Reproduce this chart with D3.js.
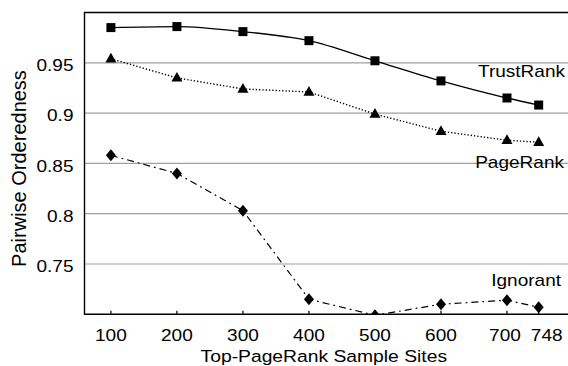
<!DOCTYPE html>
<html>
<head>
<meta charset="utf-8">
<script src="https://cdn.jsdelivr.net/npm/d3@7"></script>
<style>
  html, body { margin: 0; padding: 0; background: #fff; }
  svg { display: block; }
  text { font-family: Arial, "Liberation Sans", Helvetica, sans-serif; fill: #000; }
</style>
</head>
<body>
<script>
// ---- data ----
const sampleSites = [100, 200, 300, 400, 500, 600, 700, 748];
const xTickLabels = ["100", "200", "300", "400", "500", "600", "700", "748"];
const trustRank = [0.985, 0.986, 0.981, 0.972, 0.952, 0.932, 0.915, 0.908];
const pageRank  = [0.954, 0.935, 0.924, 0.921, 0.899, 0.882, 0.873, 0.871];
const ignorant  = [0.858, 0.840, 0.803, 0.715, 0.699, 0.710, 0.714, 0.707];
const yTicks = [0.75, 0.8, 0.85, 0.9, 0.95];
const yTickLabels = ["0.75", "0.8", "0.85", "0.9", "0.95"];
const seriesNames = ["TrustRank", "PageRank", "Ignorant"];

// ---- layout ----
const W = 568, H = 366;
const mLeft = 84.5, mTop = 12.5, mBottom = 314.3, mRight = 573;
const sx = 1.12, fs = 17;

const svg = d3.select("body").append("svg").attr("width", W).attr("height", H);

const x = d3.scaleLinear().domain([60, 800]).range([mLeft, mRight]);
const y = d3.scaleLinear().domain([0.7, 1.0]).range([mBottom, mTop]);

// gridlines
svg.append("g").selectAll("line").data(yTicks).join("line")
  .attr("x1", mLeft).attr("x2", W)
  .attr("y1", d => y(d)).attr("y2", d => y(d))
  .attr("stroke", "#a0a0a0").attr("stroke-width", 1.2);

// clip
svg.append("clipPath").attr("id", "plotclip").append("rect")
  .attr("x", mLeft).attr("y", mTop).attr("width", W - mLeft).attr("height", mBottom - mTop);

// frame
svg.append("path")
  .attr("d", `M${W},${mTop}H${mLeft}V${mBottom}H${W}`)
  .attr("fill", "none").attr("stroke", "#000").attr("stroke-width", 1.4);

// x ticks (inward)
svg.append("g").selectAll("line").data(sampleSites).join("line")
  .attr("x1", d => x(d)).attr("x2", d => x(d))
  .attr("y1", mBottom).attr("y2", mBottom - 3.5)
  .attr("stroke", "#000").attr("stroke-width", 1.2);

// tick labels
svg.append("g").selectAll("text").data(yTicks).join("text")
  .attr("transform", d => `translate(73.5,${y(d) + 8.3}) scale(${sx},1)`)
  .attr("text-anchor", "end").attr("font-size", fs)
  .text((d, i) => yTickLabels[i]);

// last two labels are nudged apart in the original to avoid overlap
const xLabelNudge = [0, 0, 0, 0, 0, 0, -2, 8];
svg.append("g").selectAll("text").data(sampleSites).join("text")
  .attr("transform", (d, i) => `translate(${x(d) + xLabelNudge[i]},340.5) scale(${sx},1)`)
  .attr("text-anchor", "middle").attr("font-size", fs)
  .text((d, i) => xTickLabels[i]);

// axis titles
svg.append("text")
  .attr("transform", `translate(323.8,362) scale(1.135,1)`)
  .attr("text-anchor", "middle").attr("font-size", fs)
  .text("Top-PageRank Sample Sites");

svg.append("text")
  .attr("transform", "translate(25.5,168.5) rotate(-90)")
  .attr("text-anchor", "middle").attr("font-size", 20)
  .text("Pairwise Orderedness");

// series
const plot = svg.append("g").attr("clip-path", "url(#plotclip)");

function drawSeries(vals, curve, dash, width) {
  const pts = sampleSites.map((s, i) => [s, vals[i]]);
  plot.append("path")
    .attr("d", d3.line().x(d => x(d[0])).y(d => y(d[1])).curve(curve)(pts))
    .attr("fill", "none").attr("stroke", "#000")
    .attr("stroke-width", width)
    .attr("stroke-dasharray", dash);
  return pts;
}

const ptsT = drawSeries(trustRank, d3.curveMonotoneX, null, 1.3);
const ptsP = drawSeries(pageRank, d3.curveLinear, "1.3,2", 1.4);
const ptsI = drawSeries(ignorant, d3.curveLinear, "7,4,1.8,4", 1.2);

// markers
plot.append("g").selectAll("rect").data(ptsT).join("rect")
  .attr("x", d => x(d[0]) - 4.5).attr("y", d => y(d[1]) - 4.5)
  .attr("width", 9).attr("height", 9).attr("fill", "#000");

plot.append("g").selectAll("path").data(ptsP).join("path")
  .attr("d", d => {
    const cx = x(d[0]), cy = y(d[1]);
    return `M${cx},${cy - 6}L${cx + 5.5},${cy + 3.7}L${cx - 5.5},${cy + 3.7}Z`;
  })
  .attr("fill", "#000");

plot.append("g").selectAll("path").data(ptsI).join("path")
  .attr("d", d => {
    const cx = x(d[0]), cy = y(d[1]);
    return `M${cx},${cy - 6}L${cx + 5},${cy}L${cx},${cy + 6}L${cx - 5},${cy}Z`;
  })
  .attr("fill", "#000");

// series labels
const labelPos = [[565, 77], [564, 168], [561, 286]];
svg.append("g").selectAll("text").data(seriesNames).join("text")
  .attr("transform", (d, i) => `translate(${labelPos[i][0]},${labelPos[i][1]}) scale(${sx},1)`)
  .attr("text-anchor", "end").attr("font-size", fs)
  .text(d => d);
</script>
</body>
</html>
